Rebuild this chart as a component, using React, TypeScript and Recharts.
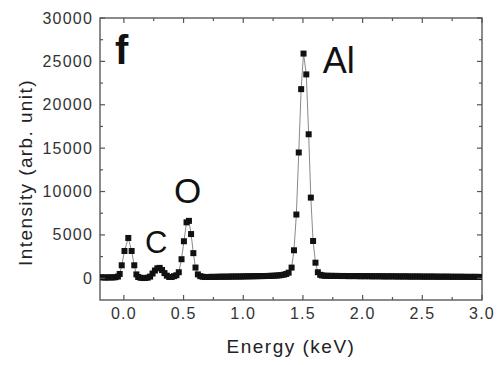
import React from 'react';
import { LineChart, Line, XAxis, YAxis, ReferenceArea, ReferenceDot } from 'recharts';

// Segment 1: left baseline, low-energy peak and C bump
const lowKeV = [-0.19, -0.17, -0.15, -0.13, -0.11, -0.09, -0.07, -0.05, -0.035, -0.018, 0.005, 0.037, 0.065, 0.087, 0.105,
  0.12, 0.14, 0.16, 0.18, 0.2, 0.22, 0.24, 0.26, 0.28, 0.3, 0.32, 0.34, 0.36, 0.38, 0.4, 0.42, 0.44, 0.46];
const lowCounts = [120, 100, 90, 100, 110, 100, 130, 200, 500, 1500, 3150, 4650, 3150, 1500, 450,
  150, 60, 30, 40, 80, 200, 550, 900, 1150, 1200, 950, 600, 300, 150, 150, 250, 350, 700];

// Segment 2: O peak
const oxygenKeV = [0.483, 0.503, 0.525, 0.545, 0.563, 0.582, 0.6, 0.62, 0.64];
const oxygenCounts = [2200, 4270, 6450, 6620, 5100, 2900, 1240, 450, 250];

// Segment 3: middle baseline
const midKeV = [0.66, 0.68, 0.7, 0.72, 0.74, 0.76, 0.78, 0.8, 0.82, 0.84, 0.86, 0.88, 0.9, 0.92, 0.94, 0.96, 0.98,
  1.0, 1.02, 1.04, 1.06, 1.08, 1.1, 1.12, 1.14, 1.16, 1.18, 1.2, 1.22, 1.24, 1.26, 1.28, 1.3, 1.32, 1.34, 1.36, 1.38];
const midCounts = [180, 150, 150, 160, 170, 160, 170, 180, 180, 190, 180, 190, 200, 200, 210, 200, 210,
  220, 220, 230, 230, 240, 240, 250, 250, 260, 260, 270, 280, 290, 300, 320, 340, 370, 420, 500, 650];

// Segment 4: Al peak
const alKeV = [1.405, 1.425, 1.445, 1.465, 1.485, 1.505, 1.528, 1.548, 1.566, 1.585, 1.605, 1.625, 1.645];
const alCounts = [1235, 3230, 7350, 14500, 21800, 25900, 23500, 16600, 9300, 4300, 1800, 700, 400];

// Segment 5: right baseline
const highKeV = [1.66, 1.68, 1.7, 1.72, 1.74, 1.76, 1.78, 1.8, 1.82, 1.84, 1.86, 1.88, 1.9, 1.92, 1.94, 1.96, 1.98,
  2.0, 2.02, 2.04, 2.06, 2.08, 2.1, 2.12, 2.14, 2.16, 2.18, 2.2, 2.22, 2.24, 2.26, 2.28, 2.3, 2.32, 2.34, 2.36, 2.38,
  2.4, 2.42, 2.44, 2.46, 2.48, 2.5, 2.52, 2.54, 2.56, 2.58, 2.6, 2.62, 2.64, 2.66, 2.68, 2.7, 2.72, 2.74, 2.76, 2.78,
  2.8, 2.82, 2.84, 2.86, 2.88, 2.9, 2.92, 2.94, 2.96, 2.98, 3.0];
const highCounts = [330, 300, 290, 280, 290, 270, 280, 270, 260, 270, 260, 250, 260, 250, 260, 250, 240,
  250, 240, 250, 240, 230, 240, 230, 240, 230, 220, 230, 220, 230, 220, 220, 210, 220, 210, 220, 210,
  200, 210, 200, 210, 200, 200, 190, 200, 190, 200, 190, 190, 180, 190, 180, 190, 180, 180, 170, 180,
  170, 180, 170, 170, 160, 170, 160, 170, 160, 160, 150];

const xTicks = [0, 0.25, 0.5, 0.75, 1, 1.25, 1.5, 1.75, 2, 2.25, 2.5, 2.75, 3];
const yTicks = [0, 2500, 5000, 7500, 10000, 12500, 15000, 17500, 20000, 22500, 25000, 27500, 30000];

const annotations = [
  { text: 'f', x: -0.075, y: 24730, size: 40, weight: 700 },
  { text: 'C', x: 0.177, y: 2920, size: 31, weight: 400 },
  { text: 'O', x: 0.42, y: 8690, size: 35, weight: 400 },
  { text: 'Al', x: 1.667, y: 23690, size: 36, weight: 400 },
];

const energies = [...lowKeV, ...oxygenKeV, ...midKeV, ...alKeV, ...highKeV];
const counts = [...lowCounts, ...oxygenCounts, ...midCounts, ...alCounts, ...highCounts];
const data = energies.map((e, i) => ({ e, v: counts[i] }));

const FONT = '"Liberation Sans", Arial, sans-serif';
const PLOT_W = 382;
const PLOT_H = 282;

const XTick = (props: any) => {
  const { x, y, payload } = props;
  const v = payload.value;
  const major = Math.abs(v * 2 - Math.round(v * 2)) < 1e-6;
  const len = major ? 5 : 3;
  return (
    <g>
      <line x1={x} x2={x} y1={y} y2={y - len} stroke="#555" strokeWidth={1.2} />
      <line x1={x} x2={x} y1={y - PLOT_H} y2={y - PLOT_H + len} stroke="#555" strokeWidth={1.2} />
      {major && (
        <text x={x} y={y + 19} textAnchor="middle" fontFamily={FONT} fontSize={16} fill="#333" style={{ letterSpacing: '1.2px' }}>
          {v.toFixed(1)}
        </text>
      )}
    </g>
  );
};

const YTick = (props: any) => {
  const { x, y, payload } = props;
  const v = payload.value;
  const major = v % 5000 === 0;
  const len = major ? 5 : 3;
  return (
    <g>
      <line x1={x} x2={x + len} y1={y} y2={y} stroke="#555" strokeWidth={1.2} />
      <line x1={x + PLOT_W} x2={x + PLOT_W - len} y1={y} y2={y} stroke="#555" strokeWidth={1.2} />
      {major && (
        <text x={x - 7} y={y + 5.5} textAnchor="end" fontFamily={FONT} fontSize={16} fill="#333" style={{ letterSpacing: '1.2px' }}>
          {v}
        </text>
      )}
    </g>
  );
};

const SquareDot = (props: any) => {
  const { cx, cy, index } = props;
  if (cx == null || cy == null) return <g key={index} />;
  return <rect key={index} x={cx - 3} y={cy - 3} width={6} height={6} fill="#111" />;
};

const XTitle = (props: any) => {
  const vb = props.viewBox;
  return (
    <text x={vb.x + vb.width / 2} y={vb.y + 53} textAnchor="middle" fontFamily={FONT} fontSize={19} fill="#222" style={{ letterSpacing: '1.5px' }}>
      Energy (keV)
    </text>
  );
};

const YTitle = (props: any) => {
  const vb = props.viewBox;
  const cx = 32;
  const cy = vb.y + vb.height / 2 + 13.5;
  return (
    <text x={cx} y={cy} transform={`rotate(-90, ${cx}, ${cy})`} textAnchor="middle" fontFamily={FONT} fontSize={19} fill="#222" style={{ letterSpacing: '1.4px' }}>
      Intensity (arb. unit)
    </text>
  );
};

const makeAnno = (a: any) => (props: any) => {
  const vb = props.viewBox;
  const px = vb.cx != null ? vb.cx : vb.x;
  const py = vb.cy != null ? vb.cy : vb.y;
  return (
    <text x={px} y={py} fontFamily={FONT} fontSize={a.size} fontWeight={a.weight} fill="#111">
      {a.text}
    </text>
  );
};

export default function App() {
  return (
    <div style={{ position: 'absolute', left: 0, top: 0, background: '#fff' }}>
      <LineChart width={500} height={365} data={data} margin={{ top: 18, right: 18, bottom: 0, left: 0 }}>
        <XAxis
          dataKey="e"
          type="number"
          domain={[-0.2, 3]}
          ticks={xTicks}
          interval={0}
          height={65}
          tickSize={0}
          tickMargin={0}
          axisLine={false}
          tickLine={false}
          tick={<XTick />}
          allowDataOverflow
          label={<XTitle />}
        />
        <YAxis
          type="number"
          domain={[-2500, 30000]}
          ticks={yTicks}
          interval={0}
          width={100}
          tickSize={0}
          tickMargin={0}
          axisLine={false}
          tickLine={false}
          tick={<YTick />}
          allowDataOverflow
          label={<YTitle />}
        />
        <ReferenceArea x1={-0.2} x2={3} y1={-2500} y2={30000} fill="none" stroke="#666" strokeWidth={1.5} ifOverflow="visible" />
        <Line
          type="linear"
          dataKey="v"
          stroke="#8a8a8a"
          strokeWidth={1}
          dot={<SquareDot />}
          activeDot={false}
          isAnimationActive={false}
        />
        {annotations.map((a) => (
          <ReferenceDot key={a.text} x={a.x} y={a.y} r={0} fill="none" stroke="none" ifOverflow="visible" label={makeAnno(a)} />
        ))}
      </LineChart>
    </div>
  );
}
